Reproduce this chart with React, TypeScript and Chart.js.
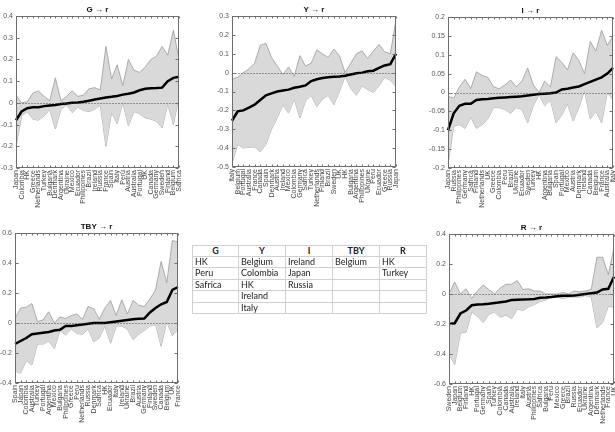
import React, { useEffect, useRef } from "react";
import { Chart, registerables } from "chart.js";
Chart.register(...registerables);

// ---------- DATA ----------
const G_LABELS = ["Japan","Colombia","HK","Greece","Netherlands","Turkey","Bulgaria","Denmark","Argentina","Ukraine","Mexico","Ecuador","Philippines","Brazil","Ireland","Russia","France","Spain","Italy","Peru","Austria","Australia","Portugal","UK","Canada","Germany","Sweden","Finland","Belgium","Safrica"];
const G_MEDIAN = [-0.08,-0.04,-0.025,-0.02,-0.02,-0.015,-0.012,-0.01,-0.005,-0.003,0.0,0.002,0.005,0.01,0.015,0.02,0.025,0.028,0.032,0.038,0.042,0.048,0.058,0.065,0.067,0.068,0.07,0.1,0.115,0.12];
const G_UPPER = [0.035,0.0,0.005,0.045,0.055,0.03,0.01,0.115,0.01,0.03,0.055,0.03,0.035,0.065,0.07,0.06,0.26,0.11,0.175,0.08,0.2,0.15,0.14,0.165,0.2,0.215,0.26,0.22,0.335,0.2];
const G_LOWER = [-0.2,-0.06,-0.04,-0.075,-0.08,-0.06,-0.03,-0.12,-0.03,-0.01,-0.045,-0.02,-0.035,-0.04,-0.03,-0.01,-0.2,-0.045,-0.095,0.0,-0.105,-0.04,-0.05,-0.07,-0.075,-0.085,-0.115,-0.005,-0.1,0.03];
const G_TICKS = [-0.3, 0.4, 0.1];

const Y_LABELS = ["Italy","Belgium","Portugal","Australia","France","Canada","Spain","Denmark","Austria","Ireland","Mexico","Colombia","Germany","Safrica","Turkey","Netherlands","Finland","Brazil","Sweden","UK","HK","Bulgaria","Argentina","Philippines","Ukraine","Peru","Ecuador","Greece","Russia","Japan"];
const Y_MEDIAN = [-0.255,-0.205,-0.2,-0.185,-0.17,-0.145,-0.12,-0.11,-0.1,-0.095,-0.09,-0.08,-0.075,-0.068,-0.045,-0.035,-0.028,-0.024,-0.022,-0.02,-0.017,-0.01,-0.003,0.0,0.007,0.01,0.025,0.038,0.045,0.1];
const Y_UPPER = [-0.035,-0.025,0.0,0.02,0.05,0.145,0.155,0.08,0.035,-0.01,0.03,-0.02,0.09,0.035,0.05,0.12,0.1,0.08,0.125,0.09,0.0,0.05,0.1,0.115,0.075,0.115,0.15,0.11,0.1,0.28];
const Y_LOWER = [-0.48,-0.38,-0.4,-0.395,-0.395,-0.42,-0.38,-0.3,-0.24,-0.17,-0.215,-0.14,-0.24,-0.15,-0.12,-0.18,-0.14,-0.12,-0.17,-0.1,-0.02,-0.085,-0.12,-0.07,-0.09,-0.105,-0.07,-0.025,-0.04,-0.075];
const Y_TICKS = [-0.5, 0.3, 0.1];

const I_LABELS = ["Japan","Russia","Philippines","Germany","Safrica","Finland","Netherlands","UK","Greece","Colombia","Peru","Brazil","Ukraine","Ecuador","Sweden","Turkey","HK","Argentina","Bulgaria","Spain","Portugal","Mexico","Austria","Denmark","Ireland","Canada","Belgium","France","Australia","Italy"];
const I_MEDIAN = [-0.1,-0.055,-0.035,-0.03,-0.03,-0.02,-0.018,-0.017,-0.015,-0.014,-0.013,-0.012,-0.011,-0.01,-0.008,-0.006,-0.004,-0.003,-0.002,0.0,0.008,0.01,0.013,0.016,0.022,0.028,0.034,0.04,0.05,0.065];
const I_UPPER = [-0.01,-0.015,0.015,0.035,0.01,0.055,0.045,0.04,0.015,0.01,0.02,0.033,0.015,0.03,0.065,0.02,0.0,0.03,0.015,0.095,0.08,0.06,0.105,0.085,0.05,0.135,0.11,0.165,0.125,0.15];
const I_LOWER = [-0.19,-0.09,-0.085,-0.095,-0.065,-0.095,-0.085,-0.07,-0.04,-0.04,-0.045,-0.055,-0.04,-0.045,-0.08,-0.035,-0.005,-0.035,-0.02,-0.08,-0.06,-0.03,-0.075,-0.04,0.005,-0.07,-0.05,-0.08,0.0,-0.02];
const I_TICKS = [-0.2, 0.2, 0.05];

const TBY_LABELS = ["Spain","Japan","Colombia","Australia","Turkey","Portugal","Argentina","Mexico","Bulgaria","Philippines","Greece","Peru","Netherlands","Russia","Denmark","Safrica","HK","Ecuador","Italy","Ireland","Ukraine","Brazil","Austria","Germany","Finland","Sweden","Canada","Belgium","UK","France"];
const TBY_MEDIAN = [-0.14,-0.12,-0.1,-0.075,-0.07,-0.065,-0.06,-0.05,-0.045,-0.02,-0.02,-0.015,-0.01,-0.005,0.0,0.0,0.0,0.005,0.01,0.015,0.02,0.025,0.028,0.03,0.07,0.1,0.125,0.14,0.22,0.24];
const TBY_UPPER = [0.03,0.1,0.105,0.13,0.01,0.02,0.075,0.0,0.04,0.03,0.05,0.06,0.025,0.11,0.095,0.025,0.1,0.15,0.05,0.155,0.06,0.15,0.12,0.11,0.16,0.22,0.41,0.27,0.55,0.54];
const TBY_LOWER = [-0.32,-0.335,-0.25,-0.28,-0.14,-0.14,-0.12,-0.17,-0.05,-0.08,-0.04,-0.07,-0.075,-0.04,-0.125,-0.1,-0.02,-0.135,-0.02,-0.02,-0.04,-0.11,-0.075,-0.05,-0.02,-0.01,-0.155,0.01,-0.085,-0.04];
const TBY_TICKS = [-0.4, 0.6, 0.2];

const R_LABELS = ["Sweden","Japan","Belgium","Finland","HK","Portugal","Germany","Spain","Turkey","Colombia","Canada","Australia","Ireland","Italy","Austria","Philippines","Safrica","Bulgaria","Peru","Mexico","Greece","Brazil","Russia","Ecuador","Ukraine","Argentina","Denmark","Netherlands","France","UK"];
const R_MEDIAN = [-0.2,-0.195,-0.13,-0.11,-0.075,-0.07,-0.068,-0.065,-0.06,-0.055,-0.05,-0.04,-0.038,-0.036,-0.035,-0.033,-0.025,-0.023,-0.02,-0.015,-0.012,-0.012,-0.01,-0.005,0.0,0.005,0.01,0.03,0.035,0.115];
const R_UPPER = [0.0,0.08,0.0,0.035,-0.03,0.02,0.06,0.03,0.0,0.04,0.065,0.065,0.09,0.03,0.035,0.02,0.02,0.0,0.0,0.0,0.01,0.0,0.02,0.015,0.02,0.03,0.245,0.245,0.13,0.31];
const R_LOWER = [-0.4,-0.47,-0.26,-0.255,-0.12,-0.15,-0.19,-0.135,-0.12,-0.155,-0.14,-0.165,-0.1,-0.11,-0.085,-0.07,-0.05,-0.04,-0.02,-0.02,-0.03,-0.02,-0.02,-0.02,-0.01,-0.02,-0.225,-0.19,-0.08,-0.09];
const R_TICKS = [-0.6, 0.4, 0.2];

const TABLE_HEADERS = ["G", "Y", "I", "TBY", "R"];
const TABLE_G = ["HK", "Peru", "Safrica"];
const TABLE_Y = ["Belgium", "Colombia", "HK", "Ireland", "Italy"];
const TABLE_I = ["Ireland", "Japan", "Russia"];
const TABLE_TBY = ["Belgium"];
const TABLE_R = ["HK", "Turkey"];

// ---------- RENDERING ----------
const FONT = '"Liberation Sans", Arial, sans-serif';

const framePlugin = {
  id: "frame",
  afterDraw(chart: any, _args: any, opts: any) {
    const { ctx, chartArea: a, scales } = chart;
    const xs = scales.x, ys = scales.y;
    const L = Math.round(a.left) + 0.5, R = Math.round(a.right) - 0.5;
    const T = Math.round(a.top) + 0.5, B = Math.round(a.bottom) - 0.5;
    ctx.save();
    // zero dotted line
    const y0 = Math.round(ys.getPixelForValue(0)) + 0.5;
    ctx.strokeStyle = "#444";
    ctx.lineWidth = 1;
    ctx.setLineDash([1, 2]);
    ctx.beginPath();
    ctx.moveTo(L, y0);
    ctx.lineTo(R, y0);
    ctx.stroke();
    ctx.setLineDash([]);
    // box
    ctx.strokeStyle = "#6e6e6e";
    ctx.strokeRect(L, T, R - L, B - T);
    // inner ticks
    ctx.beginPath();
    ys.ticks.forEach((_t: any, i: number) => {
      const py = Math.round(ys.getPixelForTick(i)) + 0.5;
      ctx.moveTo(L, py); ctx.lineTo(L + 3, py);
      ctx.moveTo(R, py); ctx.lineTo(R - 3, py);
    });
    xs.ticks.forEach((_t: any, i: number) => {
      const px = Math.round(xs.getPixelForTick(i)) + 0.5;
      ctx.moveTo(px, B); ctx.lineTo(px, B - 2);
      ctx.moveTo(px, T); ctx.lineTo(px, T + 2);
    });
    ctx.stroke();
    // title
    ctx.fillStyle = "#111";
    ctx.font = `bold 8px ${FONT}`;
    ctx.textAlign = "center";
    ctx.textBaseline = "alphabetic";
    ctx.fillText(opts.title, (a.left + a.right) / 2, a.top - 4);
    ctx.restore();
  },
};

type PanelProps = {
  title: string; labels: string[]; median: number[]; upper: number[]; lower: number[];
  ticks: number[]; left: number; top: number; plotRight: number; plotBottom: number;
  yAxisW: number; padTop: number;
};

const X_AXIS_H = 47;
const PAD_RIGHT = 6;

function Panel(p: PanelProps) {
  const ref = useRef<HTMLCanvasElement>(null);
  const width = p.plotRight - p.left + PAD_RIGHT;
  const height = p.plotBottom - p.top + X_AXIS_H;
  useEffect(() => {
    const chart = new Chart(ref.current!, {
      type: "line",
      data: {
        labels: p.labels,
        datasets: [
          { data: p.median, borderColor: "#000", borderWidth: 2.5, pointRadius: 0, fill: false },
          { data: p.upper, borderColor: "#9a9a9a", borderWidth: 0.8, pointRadius: 0, fill: "+1", backgroundColor: "#d9d9d9" },
          { data: p.lower, borderColor: "#9a9a9a", borderWidth: 0.8, pointRadius: 0, fill: false },
        ],
      },
      options: {
        animation: false,
        responsive: false,
        maintainAspectRatio: false,
        layout: { padding: { top: p.padTop, right: PAD_RIGHT, bottom: 0, left: 0 } },
        plugins: { legend: { display: false }, tooltip: { enabled: false }, frame: { title: p.title } } as any,
        scales: {
          x: {
            type: "category",
            offset: false,
            grid: { display: false, drawTicks: false },
            border: { display: false },
            ticks: { autoSkip: false, minRotation: 90, maxRotation: 90, padding: 2, color: "#444", font: { size: 7, family: FONT } },
            afterFit: (s: any) => { s.height = X_AXIS_H; s.paddingLeft = 0; s.paddingRight = 0; },
          },
          y: {
            type: "linear",
            min: p.ticks[0],
            max: p.ticks[1],
            grid: { display: false, drawTicks: false },
            border: { display: false },
            ticks: {
              stepSize: p.ticks[2], padding: 3, color: "#555", font: { size: 7, family: FONT },
              callback: (v: any) => String(Math.round(Number(v) * 1000) / 1000),
            },
            afterFit: (s: any) => { s.width = p.yAxisW; s.paddingTop = 0; s.paddingBottom = 0; },
          },
        },
      },
      plugins: [framePlugin],
    } as any);
    return () => chart.destroy();
  }, []);
  return (
    <canvas
      ref={ref}
      width={width}
      height={height}
      style={{ position: "absolute", left: p.left, top: p.top, width, height }}
    />
  );
}

function SigTable() {
  const cols = [TABLE_G, TABLE_Y, TABLE_I, TABLE_TBY, TABLE_R];
  const x0 = 192, y0 = 245, cw = 47, rh = 11.5, nRows = 6;
  const cells: any[] = [];
  for (let r = 0; r < nRows; r++) {
    for (let c = 0; c < 5; c++) {
      const text = r === 0 ? TABLE_HEADERS[c] : cols[c][r - 1] || "";
      cells.push(
        <div key={`${r}-${c}`} style={{
          position: "absolute", left: x0 + c * cw - (c ? 1 : 0), top: y0 + r * rh - (r ? 1 : 0),
          width: cw + (c ? 1 : 0), height: rh + (r ? 1 : 0),
          boxSizing: "border-box", border: "1px solid #d0d0d0",
          fontFamily: "Lato, sans-serif", fontSize: 9, lineHeight: `${rh - 1}px`, color: "#222",
          fontWeight: r === 0 ? 700 : 400, textAlign: r === 0 ? "center" : "left", paddingLeft: r === 0 ? 0 : 2,
          whiteSpace: "nowrap", overflow: "hidden",
        }}>{text}</div>
      );
    }
  }
  return <>{cells}</>;
}

export default function App() {
  return (
    <div style={{ position: "absolute", left: 0, top: 0, width: 615, height: 432, overflow: "hidden", background: "#fff" }}>
      <Panel title={"G \u2192 r"} labels={G_LABELS} median={G_MEDIAN} upper={G_UPPER} lower={G_LOWER} ticks={G_TICKS}
        left={0} top={0} plotRight={179} plotBottom={168} yAxisW={16} padTop={16} />
      <Panel title={"Y \u2192 r"} labels={Y_LABELS} median={Y_MEDIAN} upper={Y_UPPER} lower={Y_LOWER} ticks={Y_TICKS}
        left={205} top={0} plotRight={396} plotBottom={167} yAxisW={27} padTop={16} />
      <Panel title={"I \u2192 r"} labels={I_LABELS} median={I_MEDIAN} upper={I_UPPER} lower={I_LOWER} ticks={I_TICKS}
        left={418} top={0} plotRight={613} plotBottom={168} yAxisW={30} padTop={17} />
      <Panel title={"TBY \u2192 r"} labels={TBY_LABELS} median={TBY_MEDIAN} upper={TBY_UPPER} lower={TBY_LOWER} ticks={TBY_TICKS}
        left={0} top={216} plotRight={178} plotBottom={383} yAxisW={15} padTop={17} />
      <Panel title={"R \u2192 r"} labels={R_LABELS} median={R_MEDIAN} upper={R_UPPER} lower={R_LOWER} ticks={R_TICKS}
        left={422} top={216} plotRight={614} plotBottom={384} yAxisW={27} padTop={18} />
      <SigTable />
    </div>
  );
}
